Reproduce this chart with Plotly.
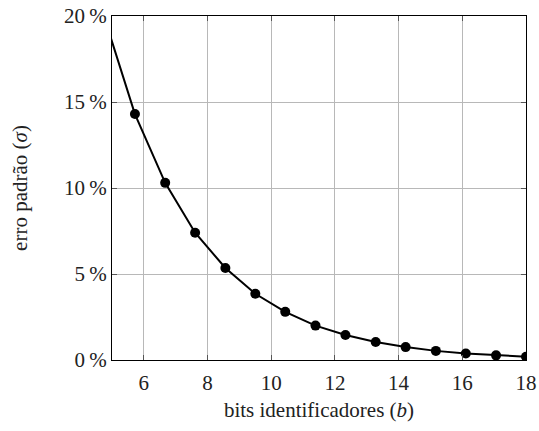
import plotly.graph_objects as go

# bits used as register identifier and the resulting standard error (%)
bits = [4.78, 5.72, 6.67, 7.61, 8.56, 9.50, 10.44, 11.39, 12.33, 13.28, 14.22, 15.17, 16.11, 17.06, 18.00]
erro_pct = [19.8, 14.3, 10.3, 7.4, 5.35, 3.85, 2.8, 2.0, 1.45, 1.05, 0.75, 0.53, 0.38, 0.27, 0.19]

x_ticks = [6, 8, 10, 12, 14, 16, 18]
y_ticks = [0, 5, 10, 15, 20]
y_tick_text = ["0\u2009%", "5\u2009%", "10\u2009%", "15\u2009%", "20\u2009%"]

FONT = "Liberation Serif"
TXT = "#222222"

fig = go.Figure()
fig.add_trace(go.Scatter(
    x=bits,
    y=erro_pct,
    mode="lines+markers",
    line=dict(color="black", width=2),
    marker=dict(color="black", size=10, symbol="circle"),
    cliponaxis=True,
    showlegend=False,
))

axis_common = dict(
    automargin=False,
    showline=True,
    linecolor="black",
    linewidth=1.2,
    mirror="ticks",
    ticks="inside",
    ticklen=5,
    tickwidth=1,
    tickcolor="#555555",
    showgrid=True,
    gridcolor="#b8b8b8",
    gridwidth=1,
    zeroline=False,
    tickfont=dict(family=FONT, size=21, color=TXT),
)

fig.update_xaxes(
    range=[5, 18],
    tickvals=x_ticks,
    ticktext=[str(v) for v in x_ticks],
    ticklabelstandoff=4,
    title=dict(text="bits identificadores (<i>b</i>)", font=dict(family=FONT, size=21, color=TXT), standoff=8),
    **axis_common,
)
fig.update_yaxes(
    range=[0, 20],
    tickvals=y_ticks,
    ticktext=y_tick_text,
    title=dict(text="erro padrão (<i>σ</i>)", font=dict(family=FONT, size=21, color=TXT), standoff=30),
    **axis_common,
)

fig.update_layout(
    width=539,
    height=431,
    autosize=False,
    margin=dict(l=112, r=13, t=16, b=71, autoexpand=False),
    paper_bgcolor="white",
    plot_bgcolor="white",
)

fig.write_html("out.html")
